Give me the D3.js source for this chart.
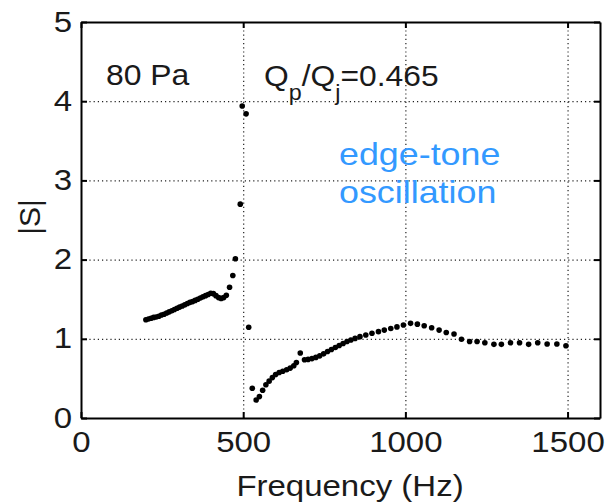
<!DOCTYPE html>
<html><head><meta charset="utf-8">
<script src="https://cdn.jsdelivr.net/npm/d3@7"></script>
<style>
html,body{margin:0;padding:0;background:#fff;}
svg{display:block;font-family:"Liberation Sans",Arial,sans-serif;}
</style>
</head><body>
<script>
// Data
const freqLow = [200,208,216,224,232,240,248,256,264,272,280,288,296,304,312,320,328,336,344,352,360,368,376,384,392,400,408,416,424,432,440,448,458,468,476,491,497,509,517];
const magLow  = [1.24,1.25,1.26,1.27,1.275,1.285,1.30,1.31,1.325,1.34,1.355,1.37,1.385,1.40,1.415,1.43,1.445,1.46,1.47,1.485,1.50,1.515,1.53,1.545,1.56,1.575,1.57,1.545,1.52,1.51,1.52,1.55,1.65,1.80,2.01,2.70,3.94,3.84,1.145];
const freqHigh = [528,540,550,560,570,580,590,600,611,622,634,645,656,664,676,689,700,712,724,736,748,760,772,784,796,808,820,832,845,860,878,897,917,935,955,974,994,1016,1037,1058,1081,1104,1126,1150,1173,1198,1221,1245,1273,1296,1324,1352,1380,1408,1437,1467,1495];
const magHigh  = [0.375,0.227,0.27,0.35,0.42,0.465,0.51,0.55,0.575,0.59,0.61,0.63,0.66,0.70,0.82,0.735,0.74,0.75,0.765,0.785,0.81,0.84,0.865,0.89,0.915,0.94,0.965,0.985,1.005,1.027,1.048,1.07,1.09,1.11,1.13,1.15,1.175,1.195,1.185,1.165,1.14,1.11,1.08,1.06,0.995,0.965,0.965,0.95,0.93,0.93,0.95,0.95,0.93,0.95,0.935,0.935,0.913];
const xTicks = [0,500,1000,1500];
const yTicks = [0,1,2,3,4,5];
const xLabel = "Frequency (Hz)";
const yLabel = "|S|";
const pressureLabel = "80 Pa";
const noteLines = ["edge-tone","oscillation"];

const W = 606, H = 503;
const L = 81, R = 600, T = 22, B = 418;
const SX = 1.1;

const svg = d3.select("body").append("svg").attr("width", W).attr("height", H);
const x = d3.scaleLinear().domain([0,1600]).range([L,R]);
const y = d3.scaleLinear().domain([0,5]).range([B,T]);

// grid
const gx = svg.append("g").attr("transform",`translate(0,${B})`)
  .call(d3.axisBottom(x).tickValues(xTicks.filter(d=>d>0)).tickSize(-(B-T)).tickFormat(""));
const gy = svg.append("g").attr("transform",`translate(${L},0)`)
  .call(d3.axisLeft(y).tickValues(yTicks.filter(d=>d>0&&d<5)).tickSize(-(R-L)).tickFormat(""));
[gx,gy].forEach(g=>{
  g.select(".domain").remove();
  g.selectAll("line").attr("stroke","#222").attr("stroke-width",1.2).attr("stroke-dasharray","1.2,3");
});

// points
const pts = freqLow.map((f,i)=>[f,magLow[i]]).concat(freqHigh.map((f,i)=>[f,magHigh[i]]));
svg.append("g").selectAll("circle").data(pts).join("circle")
  .attr("cx",d=>x(d[0])).attr("cy",d=>y(d[1])).attr("r",2.8).attr("fill","#000");

// axes
function styleAxis(g){
  g.select(".domain").attr("stroke","#000").attr("stroke-width",2);
  g.selectAll(".tick line").attr("stroke","#000").attr("stroke-width",2);
  g.selectAll(".tick text").attr("fill","#1a1a1a").attr("font-size",30)
    .attr("font-family","Liberation Sans, Arial, sans-serif")
    .attr("transform",`scale(${SX},1)`);
}
const ax = svg.append("g").attr("transform",`translate(0,${B})`)
  .call(d3.axisBottom(x).tickValues(xTicks).tickSize(-6).tickSizeOuter(0).tickPadding(12.5).tickFormat(d3.format("d")));
styleAxis(ax);
const ay = svg.append("g").attr("transform",`translate(${L},0)`)
  .call(d3.axisLeft(y).tickValues(yTicks).tickSize(-6).tickSizeOuter(0).tickPadding(8).tickFormat(d3.format("d")));
styleAxis(ay);
ay.selectAll(".tick text").attr("dy","0.3em");
const at = svg.append("g").attr("transform",`translate(0,${T})`)
  .call(d3.axisTop(x).tickValues(xTicks).tickSize(-6).tickSizeOuter(0).tickFormat(""));
styleAxis(at);
const ar = svg.append("g").attr("transform",`translate(${R},0)`)
  .call(d3.axisRight(y).tickValues(yTicks).tickSize(-6).tickSizeOuter(0).tickFormat(""));
styleAxis(ar);

function txt(s, tx, ty, size, color, anchor, sx){
  return svg.append("text").attr("transform",`translate(${tx},${ty}) scale(${sx||SX},1)`)
    .attr("font-size",size).attr("fill",color||"#1a1a1a").attr("text-anchor",anchor||"start").text(s);
}
txt(xLabel, 350, 496, 30, "#1a1a1a", "middle");
svg.append("text").attr("transform","translate(40,217) rotate(-90)")
  .attr("font-size",30).attr("fill","#1a1a1a").attr("text-anchor","middle").text(yLabel);

txt(pressureLabel, 106, 85, 29);
// Qp/Qj=0.465
const q = svg.append("text").attr("transform",`translate(264,86) scale(1.06,1)`)
  .attr("font-size",30).attr("fill","#1a1a1a");
q.append("tspan").text("Q");
q.append("tspan").attr("font-size",22).attr("dy",14).text("p");
q.append("tspan").attr("dy",-14).text("/Q");
q.append("tspan").attr("font-size",22).attr("dy",14).text("j");
q.append("tspan").attr("dy",-14).text("=0.465");

noteLines.forEach((s,i)=>txt(s, 339, 165 + i*37.7, 32, "#3399ff", "start", 1.12));
</script>
</body></html>
